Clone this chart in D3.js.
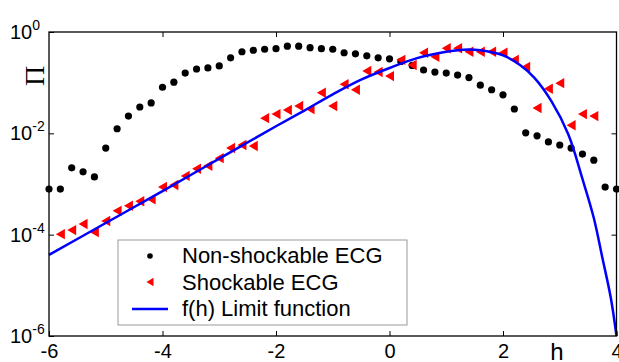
<!DOCTYPE html>
<head>
  <meta charset="utf-8" />
  <script src="https://d3js.org/d3.v7.min.js"></script>
  <style>
    body {
      margin: 0;
      background: #fff;
    }
    text {
      font-family: "Liberation Sans", Arial, sans-serif;
    }
  </style>
</head>

<body>
  <script>
    // h positions and log10(Pi) values
    var hNonShock = [-6, -5.8, -5.6, -5.4, -5.2, -5, -4.8, -4.6, -4.4, -4.2, -4, -3.8, -3.6, -3.4, -3.2, -3,
      -2.8, -2.6, -2.4, -2.2, -2, -1.8, -1.6, -1.4, -1.2, -1, -0.8, -0.6, -0.4, -0.2, 0,
      0.2, 0.4, 0.6, 0.8, 1, 1.2, 1.4, 1.6, 1.8, 2, 2.2, 2.4, 2.6, 2.8, 3, 3.2, 3.4, 3.6, 3.8, 4];
    var logNonShock = [-3.10, -3.10, -2.68, -2.76, -2.86, -2.29, -1.91, -1.66, -1.48, -1.40, -1.09, -0.99, -0.81, -0.73, -0.71, -0.67,
      -0.51, -0.39, -0.36, -0.34, -0.33, -0.28, -0.28, -0.31, -0.33, -0.34, -0.41, -0.43, -0.47, -0.51, -0.53,
      -0.58, -0.66, -0.75, -0.79, -0.81, -0.85, -0.90, -1.05, -1.14, -1.24, -1.52, -1.99, -2.05, -2.17, -2.23, -2.29, -2.41, -2.53, -3.06, -3.10];

    var hShock = [-5.8, -5.6, -5.4, -5.2, -5, -4.8, -4.6, -4.4, -4.2, -4, -3.8, -3.6, -3.4, -3.2, -3,
      -2.8, -2.6, -2.4, -2.2, -2, -1.8, -1.6, -1.4, -1.2, -1, -0.8, -0.6, -0.4, -0.2, 0,
      0.2, 0.4, 0.6, 0.8, 1, 1.2, 1.4, 1.6, 1.8, 2, 2.2, 2.4, 2.6, 2.8, 3, 3.2, 3.4, 3.6];
    var logShock = [-3.99, -3.91, -3.79, -3.95, -3.73, -3.53, -3.43, -3.34, -3.30, -3.06, -3.02, -2.84, -2.70, -2.64, -2.49,
      -2.29, -2.23, -2.25, -1.70, -1.62, -1.54, -1.46, -1.52, -1.20, -1.46, -1.03, -1.14, -0.77, -0.79, -0.87,
      -0.55, -0.65, -0.41, -0.49, -0.32, -0.32, -0.39, -0.39, -0.39, -0.41, -0.55, -0.69, -1.50, -1.12, -1.01, -1.84, -1.62, -1.66];

    var hLimit = [-6, -5, -4, -3, -2, -1.5, -1, -0.5, 0, 0.5, 1, 1.3, 1.6, 2, 2.3, 2.55, 2.85, 3.15, 3.4, 3.6, 3.75, 3.9, 4];
    var logLimit = [-4.40, -3.77, -3.14, -2.50, -1.86, -1.55, -1.23, -0.94, -0.71, -0.51, -0.39, -0.35, -0.36, -0.46, -0.65, -0.90, -1.36, -2.02, -2.90, -3.67, -4.45, -5.25, -6.0];

    var xTicks = [-6, -4, -2, 0, 2, 4];
    var yTicks = [0, -2, -4, -6];
    var legendLabels = ["Non-shockable ECG", "Shockable ECG", "f(h) Limit function"];

    var width = 619,
      height = 362;
    var mLeft = 49, mRight = 616.5, mTop = 32, mBottom = 336;

    var svg = d3.select("body").append("svg")
      .attr("width", width)
      .attr("height", height);

    var x = d3.scaleLinear().domain([-6, 4]).range([mLeft, mRight]);
    var y = d3.scaleLog().domain([1e-6, 1]).range([mBottom, mTop]);

    // points
    var nonData = hNonShock.map(function (h, i) { return [h, Math.pow(10, logNonShock[i])]; });
    var shockData = hShock.map(function (h, i) { return [h, Math.pow(10, logShock[i])]; });
    var limitData = hLimit.map(function (h, i) { return [h, Math.pow(10, logLimit[i])]; });

    svg.append("g").selectAll("circle")
      .data(nonData)
      .enter()
      .append("circle")
      .attr("cx", d => x(d[0]))
      .attr("cy", d => y(d[1]))
      .attr("r", 3.6)
      .attr("fill", "#000");

    var tri = "M-4.5,0L4.5,-5.2L4.5,5.2Z";
    svg.append("g").selectAll("path")
      .data(shockData)
      .enter()
      .append("path")
      .attr("d", tri)
      .attr("transform", d => "translate(" + x(d[0]) + "," + y(d[1]) + ")")
      .attr("fill", "#ff0000");

    var line = d3.line()
      .x(d => x(d[0]))
      .y(d => y(d[1]))
      .curve(d3.curveCatmullRom.alpha(0.5));

    svg.append("path")
      .datum(limitData)
      .attr("d", line)
      .attr("fill", "none")
      .attr("stroke", "#0000ff")
      .attr("stroke-width", 2.5);

    // frame + ticks
    svg.append("rect")
      .attr("x", mLeft).attr("y", mTop)
      .attr("width", mRight - mLeft).attr("height", mBottom - mTop)
      .attr("fill", "none").attr("stroke", "#000").attr("stroke-width", 1.3);

    var xAxis = svg.append("g")
      .attr("transform", "translate(0," + mBottom + ")")
      .call(d3.axisBottom(x).tickValues(xTicks).tickSizeInner(-5).tickSizeOuter(0).tickPadding(8)
        .tickFormat(d => d));
    xAxis.select(".domain").remove();
    xAxis.selectAll("text").attr("font-size", 20).attr("fill", "#000")
      .attr("font-family", "Liberation Sans, Arial, sans-serif");

    var xTop = svg.append("g")
      .attr("transform", "translate(0," + mTop + ")")
      .call(d3.axisTop(x).tickValues(xTicks.slice(1, -1)).tickSizeInner(-5).tickSizeOuter(0).tickFormat(""));
    xTop.select(".domain").remove();

    var yLeft = svg.append("g")
      .attr("transform", "translate(" + mLeft + ",0)")
      .call(d3.axisLeft(y).tickValues(yTicks.map(e => Math.pow(10, e))).tickSizeInner(-5).tickSizeOuter(0).tickFormat(""));
    yLeft.select(".domain").remove();

    var yRight = svg.append("g")
      .attr("transform", "translate(" + mRight + ",0)")
      .call(d3.axisRight(y).tickValues([1e-2, 1e-4]).tickSizeInner(-5).tickSizeOuter(0).tickFormat(""));
    yRight.select(".domain").remove();

    // log tick labels 10^n
    var yLab = svg.append("g").selectAll("text")
      .data(yTicks)
      .enter()
      .append("text")
      .attr("x", 10)
      .attr("y", d => y(Math.pow(10, d)) + 7)
      .attr("font-size", 20)
      .attr("fill", "#000");
    yLab.append("tspan").text("10");
    yLab.append("tspan")
      .attr("font-size", 14)
      .attr("dy", -9)
      .text(d => d);

    // axis labels
    svg.append("text")
      .attr("x", 557)
      .attr("y", 360)
      .attr("text-anchor", "middle")
      .attr("font-size", 24)
      .attr("fill", "#000")
      .text("h");

    svg.append("text")
      .attr("transform", "translate(44,76) rotate(-90)")
      .attr("text-anchor", "middle")
      .style("font-family", "Liberation Serif, serif")
      .attr("font-size", 28)
      .attr("fill", "#000")
      .text("\u03A0");

    // legend
    var lg = svg.append("g");
    lg.append("rect")
      .attr("x", 118).attr("y", 240)
      .attr("width", 289).attr("height", 85)
      .attr("fill", "#fff")
      .attr("stroke", "#999").attr("stroke-width", 1);

    lg.selectAll("text.lab")
      .data(legendLabels)
      .enter()
      .append("text")
      .attr("class", "lab")
      .attr("x", 182)
      .attr("y", (d, i) => 263 + i * 26.5)
      .attr("font-size", 22)
      .attr("fill", "#000")
      .text(d => d);

    lg.append("circle").attr("cx", 150).attr("cy", 256).attr("r", 2.8).attr("fill", "#000");
    lg.append("path").attr("d", "M-3.5,0L3.5,-4.2L3.5,4.2Z")
      .attr("transform", "translate(150,282)").attr("fill", "#ff0000");
    lg.append("line").attr("x1", 132).attr("x2", 168).attr("y1", 309).attr("y2", 309)
      .attr("stroke", "#0000ff").attr("stroke-width", 2.5);
  </script>
</body>
